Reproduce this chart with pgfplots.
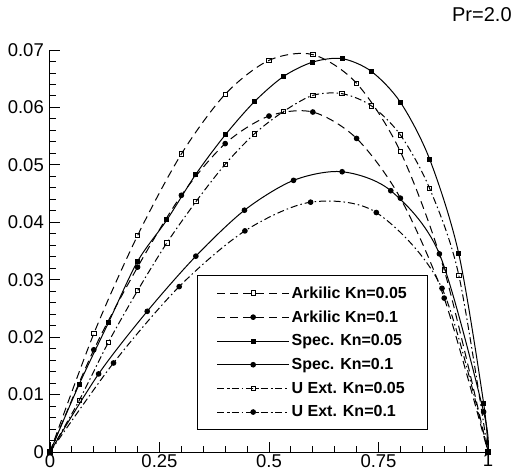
\documentclass[border=0pt]{standalone}
\usepackage{fontspec}
\setmainfont{Liberation Sans}
\usepackage{pgfplots}
\pgfplotsset{compat=1.18}
\usetikzlibrary{calc}

\tikzset{
  arkdash/.style={dash pattern=on 8pt off 5pt},
  dashdot/.style={dash pattern=on 7pt off 3pt on 1.5pt off 3pt},
}

\begin{document}
\begin{tikzpicture}
\begin{axis}[
  scale only axis, width=438pt, height=402pt,
  xmin=0, xmax=1, ymin=0, ymax=0.07,
  axis x line*=bottom, axis y line*=left,
  axis line style={line width=1pt},
  tick align=inside,
  scaled y ticks=false, scaled x ticks=false,
  xtick={0,0.25,0.5,0.75,1}, xticklabels={0,0.25,0.5,0.75,1},
  ytick={0,0.01,0.02,0.03,0.04,0.05,0.06,0.07},
  yticklabels={0,0.01,0.02,0.03,0.04,0.05,0.06,0.07},
  minor x tick num=4, minor y tick num=4,
  major tick length=10pt, minor tick length=6pt,
  every tick/.style={black, line width=0.9pt},
  tick label style={font=\fontsize{18.5}{20}\selectfont},
  xticklabel style={inner sep=1pt, yshift=-1pt},
  yticklabel style={inner sep=1pt, xshift=-5pt},
  clip=false,
  legend cell align=left,
  legend style={at={(0.336,0.055)}, anchor=south west, draw=black,
    line width=1pt, inner xsep=19pt, inner ysep=9pt, row sep=7pt,
    font=\bfseries\fontsize{16}{18}\selectfont},
  legend image code/.code={\draw[#1, mark repeat=2, mark phase=2]
    plot coordinates {(0pt,0pt)(36pt,0pt)(72pt,0pt)};},
  every axis plot/.append style={line width=1pt, smooth, tension=0.5},
]
% Arkilic Kn=0.05
\addplot[black, arkdash, mark=square, mark size=2.2pt, mark options={solid, fill=white, line width=0.8pt}]
  coordinates {(0,0)(0.1,0.0206)(0.2,0.0377)(0.3,0.0519)(0.4,0.0623)(0.5,0.0682)
    (0.6,0.0692)(0.7,0.0642)(0.8,0.0523)(0.9,0.0317)(1,0)};
% Arkilic Kn=0.1
\addplot[black, arkdash, mark=*, mark size=2.3pt, mark options={solid}]
  coordinates {(0,0)(0.1,0.0178)(0.2,0.0322)(0.3,0.0447)(0.4,0.0537)(0.5,0.0585)
    (0.6,0.0592)(0.7,0.0546)(0.8,0.0442)(0.9,0.0268)(1,0)};
% Spec. Kn=0.05
\addplot[black, mark=square*, mark size=2pt]
  coordinates {(0,0)(0.0667,0.0118)(0.1333,0.0225)(0.2,0.0332)(0.2667,0.0404)
    (0.3333,0.0484)(0.4,0.0552)(0.4667,0.0610)(0.5333,0.0654)(0.6,0.0679)
    (0.6667,0.0685)(0.7333,0.0663)(0.8,0.0609)(0.8667,0.0510)(0.9333,0.0345)
    (0.99,0.0085)(1,0)};
% Spec. Kn=0.1
\addplot[black, mark=*, mark size=2.3pt]
  coordinates {(0,0)(0.111,0.0136)(0.222,0.0245)(0.333,0.0341)(0.444,0.0421)
    (0.556,0.0473)(0.667,0.0488)(0.778,0.0455)(0.889,0.0345)(0.99,0.0070)(1,0)};
% U Ext. Kn=0.05
\addplot[black, dashdot, mark=square, mark size=2.2pt, mark options={solid, fill=white, line width=0.8pt}]
  coordinates {(0,0)(0.0667,0.0090)(0.1333,0.0191)(0.2,0.0281)(0.2667,0.0364)
    (0.3333,0.0436)(0.4,0.0501)(0.4667,0.0554)(0.5333,0.0593)(0.6,0.0621)
    (0.6667,0.0624)(0.7333,0.0603)(0.8,0.0552)(0.8667,0.0459)(0.9333,0.0308)(1,0)};
% U Ext. Kn=0.1
\addplot[black, dashdot, mark=*, mark size=2.3pt, mark options={solid}]
  coordinates {(0,0)(0.145,0.0155)(0.295,0.0288)(0.445,0.0385)(0.595,0.0435)
    (0.745,0.0417)(0.895,0.0285)(1,0)};
\legend{Arkilic Kn=0.05, Arkilic Kn=0.1, Spec. Kn=0.05, Spec. Kn=0.1,
  U Ext. Kn=0.05, U Ext. Kn=0.1}
\node[anchor=east, font=\fontsize{20}{22}\selectfont] at (axis cs:1.062,0.0761) {Pr=2.0};
\end{axis}
\pgfresetboundingbox
\path[use as bounding box] ($(current axis.south west)+(-50pt,-19pt)$)
  rectangle ($(current axis.north east)+(31pt,50pt)$);
\end{tikzpicture}
\end{document}
